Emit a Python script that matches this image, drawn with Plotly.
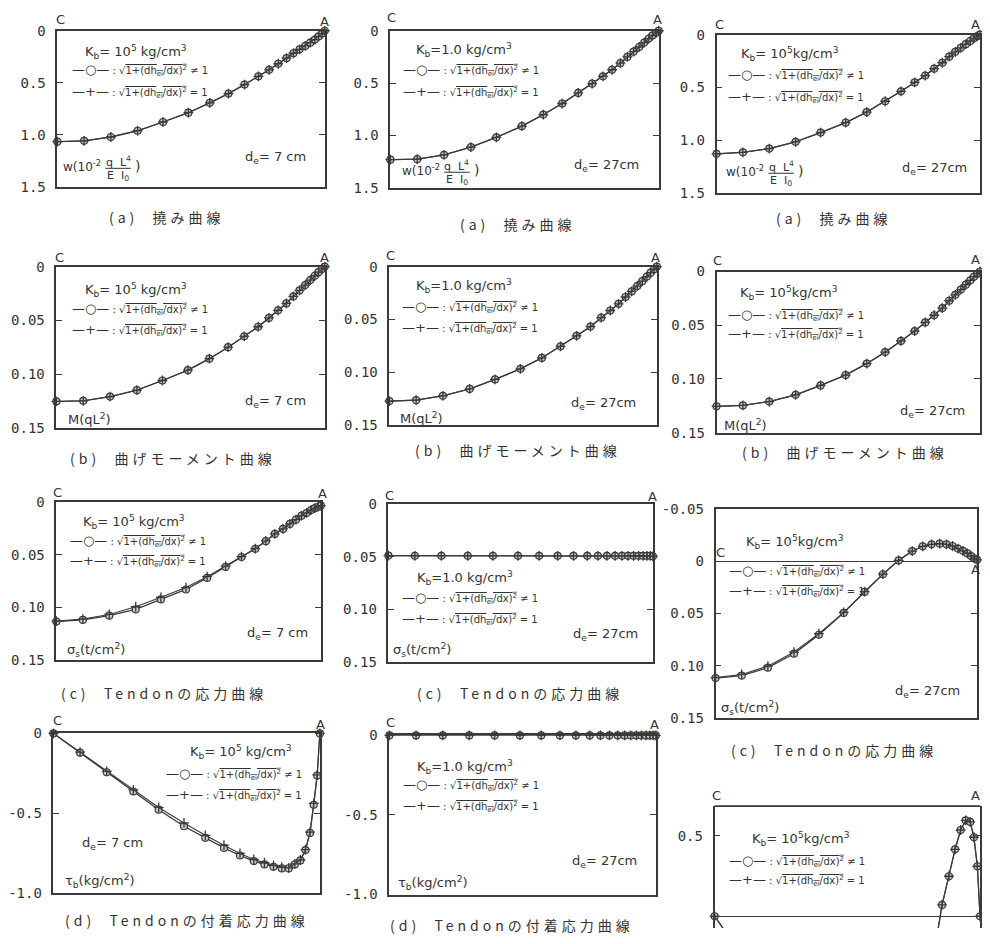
import plotly.graph_objects as go

# the page keeps the browser's 8px body margin, so the figure is made 16px smaller
# than the 990x944 window and every reference pixel position is shifted by OFF
OFF = 8
W, H = 990 - 2 * OFF, 944 - 2 * OFF

# ---------------- data ----------------
# non-dimensional position along the beam, C (=0) to A (=1)
x_mesh = [0, 0.1, 0.2, 0.3, 0.395, 0.49, 0.57, 0.64, 0.70, 0.752, 0.792,
          0.826, 0.857, 0.883, 0.906, 0.927, 0.946, 0.963, 0.977, 0.99, 1.0]

# column 1: Kb=10^5 kg/cm3, de=7cm ; column 2: Kb=1.0 kg/cm3, de=27cm ; column 3: Kb=10^5 kg/cm3, de=27cm
# (a) deflection w
w_col1 = [1.065, 1.057, 1.02, 0.96, 0.876, 0.787, 0.692, 0.603, 0.517, 0.438, 0.375,
          0.317, 0.263, 0.216, 0.178, 0.146, 0.115, 0.085, 0.055, 0.027, 0.0]
w_col2 = [1.23, 1.225, 1.185, 1.11, 1.017, 0.91, 0.80, 0.694, 0.593, 0.505, 0.435,
          0.372, 0.309, 0.25, 0.20, 0.155, 0.113, 0.075, 0.045, 0.02, 0.0]
w_col3 = [1.13, 1.115, 1.08, 1.016, 0.928, 0.834, 0.734, 0.631, 0.537, 0.453, 0.388,
          0.322, 0.266, 0.209, 0.163, 0.125, 0.09, 0.06, 0.033, 0.014, 0.0]
# (b) bending moment M
M_col1 = [0.1255, 0.1249, 0.121, 0.115, 0.106, 0.0964, 0.0857, 0.075, 0.0649, 0.056, 0.0478,
          0.0407, 0.0343, 0.0278, 0.0222, 0.0172, 0.0125, 0.0085, 0.0052, 0.0022, 0.0]
M_col2 = [0.1275, 0.1266, 0.1225, 0.116, 0.107, 0.0969, 0.0866, 0.0756, 0.0656, 0.0569, 0.0484,
          0.0416, 0.0353, 0.0288, 0.0235, 0.0185, 0.0138, 0.0095, 0.0058, 0.0025, 0.0]
M_col3 = [0.1255, 0.1246, 0.121, 0.1148, 0.106, 0.0964, 0.0857, 0.075, 0.0646, 0.0554, 0.0474,
          0.0407, 0.034, 0.0272, 0.0217, 0.0168, 0.0122, 0.0082, 0.0048, 0.002, 0.0]
# (c) tendon stress sigma_s
sig_col1_circ = [0.1136, 0.112, 0.108, 0.102, 0.0925, 0.083, 0.072, 0.0615, 0.052, 0.0442, 0.0369,
                 0.030, 0.0252, 0.0205, 0.0164, 0.0126, 0.0101, 0.0073, 0.0054, 0.0041, 0.003]
sig_col1_plus = [0.1132, 0.1112, 0.1068, 0.0995, 0.0905, 0.0812, 0.0708, 0.0608, 0.0516, 0.044, 0.0367,
                 0.0299, 0.0251, 0.0204, 0.0163, 0.0125, 0.01, 0.0072, 0.0053, 0.004, 0.003]
sig_col2 = [0.0488, 0.049, 0.049, 0.049, 0.049, 0.049, 0.049, 0.049, 0.049, 0.049, 0.049,
            0.049, 0.049, 0.049, 0.049, 0.049, 0.049, 0.049, 0.049, 0.049, 0.0495]
sig_col3_circ = [0.112, 0.1096, 0.102, 0.0886, 0.0704, 0.0494, 0.0293, 0.0123, -0.001, -0.0099, -0.0145,
                 -0.0164, -0.017, -0.0164, -0.0148, -0.0123, -0.0102, -0.0077, -0.0052, -0.0028, -0.0015]
sig_col3_plus = [0.1115, 0.1085, 0.1005, 0.087, 0.0694, 0.049, 0.029, 0.0122, -0.001, -0.0099, -0.0145,
                 -0.0164, -0.017, -0.0164, -0.0148, -0.0123, -0.0102, -0.0077, -0.0052, -0.0028, -0.0015]
# (d) bond stress tau_b
tau_col1_circ = [0.0, -0.121, -0.244, -0.365, -0.479, -0.583, -0.656, -0.719, -0.767, -0.802, -0.823,
                 -0.838, -0.848, -0.848, -0.823, -0.798, -0.733, -0.625, -0.448, -0.265, 0.0]
tau_col1_plus = [0.0, -0.118, -0.238, -0.355, -0.465, -0.5625, -0.64, -0.702, -0.754, -0.792, -0.8125,
                 -0.829, -0.84, -0.844, -0.82, -0.795, -0.73, -0.62, -0.44, -0.26, 0.0]
tau_col2 = [0.0, 0.0, 0.0, 0.0, 0.0, 0.0, 0.0, 0.0, 0.0, 0.0, 0.0,
            0.0, 0.0, 0.0, 0.0, 0.0, 0.0, 0.0, 0.0, 0.0, 0.0]
tau_col3 = [0.0, -0.25, -0.47, -0.66, -0.8, -0.88, -0.9, -0.86, -0.75, -0.58, -0.38,
            -0.24, 0.07, 0.248, 0.415, 0.535, 0.595, 0.585, 0.49, 0.31, 0.0]

# tick labels
ticks_w = ([0, 0.5, 1.0, 1.5], ["0", "0.5", "1.0", "1.5"])
ticks_m = ([0, 0.05, 0.10, 0.15], ["0", "0.05", "0.10", "0.15"])
ticks_s3 = ([-0.05, 0, 0.05, 0.10, 0.15], ["-0.05", "0", "0.05", "0.10", "0.15"])
ticks_t = ([0, -0.5, -1.0], ["0", "-0.5", "-1.0"])
ticks_t3 = ([0.5], ["0.5"])

captions = ["(a)  撓み曲線", "(b)  曲げモーメント曲線", "(c)  Tendonの応力曲線", "(d)  Tendonの付着応力曲線"]
kb_texts = ["K<sub>b</sub>= 10<sup>5</sup> kg/cm<sup>3</sup>", "K<sub>b</sub>=1.0 kg/cm<sup>3</sup>",
            "K<sub>b</sub>= 10<sup>5</sup>kg/cm<sup>3</sup>"]
de_texts = ["d<sub>e</sub>= 7 cm", "d<sub>e</sub>= 27cm", "d<sub>e</sub>= 27cm"]
units = ["w(10<sup>-2</sup>", "M(qL<sup>2</sup>)", "σ<sub>s</sub>(t/cm<sup>2</sup>)", "τ<sub>b</sub>(kg/cm<sup>2</sup>)"]

# ---------------- styling ----------------
LC = "#3a3a3a"
TXT = "#333333"
FONT = "DejaVu Sans"
MONO = "DejaVu Sans Mono"
CJK = "Noto Sans CJK JP"

SQ = "√<span style='text-decoration:overline'>1+(dh<sub>ei</sub>/dx)<sup>2</sup></span>"
LEG1 = "<span style='font-size:13px'>—○—</span> : " + SQ + " ≠ 1"
LEG2 = "<span style='font-size:13px'>—+—</span> : " + SQ + " = 1"

# panel layout in window pixels: frame (left, right, top, bottom)
panels = [
    dict(frame=(39, 312, 23, 182), c=w_col1, p=w_col1, yr=[1.5, 0], tk=ticks_w, col=0, row=0,
         C=(42, 12), A=(312, 14), kb=(65, 45), l1=(52, 63), l2=(52, 85), de=(295, 152, "right"),
         cap=(151, 213), frac=(43, 163)),
    dict(frame=(379, 653, 23, 183), c=w_col2, p=w_col2, yr=[1.5, 0], tk=ticks_w, col=1, row=0,
         C=(380, 10), A=(652, 12), kb=(403, 43), l1=(390, 63), l2=(390, 85), de=(635, 160, "right"),
         cap=(509, 220), frac=(389, 167)),
    dict(frame=(712, 983, 27, 188), c=w_col3, p=w_col3, yr=[1.5, 0], tk=ticks_w, col=2, row=0,
         C=(715, 17), A=(976, 17), kb=(735, 47), l1=(722, 68), l2=(722, 90), de=(970, 163, "right"),
         cap=(832, 214), frac=(720, 168)),
    dict(frame=(38, 312, 263, 427), c=M_col1, p=M_col1, yr=[0.15, 0], tk=ticks_m, col=0, row=1,
         C=(41, 254), A=(312, 254), kb=(65, 287), l1=(52, 306), l2=(52, 327), de=(295, 400, "right"),
         cap=(157, 458), unit=(48, 418)),
    dict(frame=(378, 651, 263, 424), c=M_col2, p=M_col2, yr=[0.15, 0], tk=ticks_m, col=1, row=1,
         C=(379, 252), A=(650, 254), kb=(403, 283), l1=(389, 304), l2=(389, 325), de=(632, 402, "right"),
         cap=(509, 450), unit=(387, 417)),
    dict(frame=(712, 982, 268, 432), c=M_col3, p=M_col3, yr=[0.15, 0], tk=ticks_m, col=2, row=1,
         C=(713, 257), A=(976, 256), kb=(734, 290), l1=(722, 312), l2=(722, 332), de=(968, 410, "right"),
         cap=(843, 452), unit=(718, 424)),
    dict(frame=(38, 308, 503, 663), c=sig_col1_circ, p=sig_col1_plus, yr=[0.15, 0], tk=ticks_m, col=0, row=2,
         C=(39, 493), A=(310, 494), kb=(63, 523), l1=(50, 542), l2=(50, 563), de=(297, 636, "right"),
         cap=(148, 697), unit=(47, 653)),
    dict(frame=(377, 647, 505, 665), c=sig_col2, p=sig_col2, yr=[0.15, 0], tk=ticks_m, col=1, row=2,
         C=(378, 496), A=(647, 497), kb=(404, 580), l1=(389, 600), l2=(389, 622), de=(634, 637, "right"),
         cap=(511, 697), unit=(380, 653)),
    dict(frame=(711, 978, 510, 722), c=sig_col3_circ, p=sig_col3_plus, yr=[0.15, -0.05], tk=ticks_s3, col=2,
         row=2, zero=True,
         C=(716, 554), A=(976, 571), kb=(740, 543), l1=(723, 573), l2=(723, 593), de=(963, 695, "right"),
         cap=(832, 755), unit=(715, 712)),
    dict(frame=(35, 307, 738, 900), c=tau_col1_circ, p=tau_col1_plus, yr=[-1.0, 0], tk=ticks_t, col=0, row=3,
         C=(39, 725), A=(308, 729), kb=(172, 757), l1=(148, 779), l2=(148, 801), de=(62, 850, "left"),
         cap=(171, 928), unit=(45, 888)),
    dict(frame=(378, 650, 740, 902), c=tau_col2, p=tau_col2, yr=[-1.0, 0], tk=ticks_t, col=1, row=3,
         C=(379, 727), A=(649, 729), kb=(404, 772), l1=(390, 790), l2=(390, 812), de=(633, 868, "right"),
         cap=(503, 933), unit=(385, 890)),
    dict(frame=(710, 981, 812, 936), c=tau_col3, p=tau_col3, yr=[-0.073, 0.683], tk=ticks_t3, col=2, row=3,
         zero=True, open_bottom=True,
         C=(712, 801), A=(976, 801), kb=(746, 845), l1=(723, 868), l2=(723, 887)),
]

fig = go.Figure()
annotations = []
shapes = []


def fx(px):
    return (px - OFF) / W


def fy(py):
    return 1 - (py - OFF) / H


def ann(px, py, text, size=13, xanchor="left", yanchor="middle", family=FONT):
    annotations.append(dict(x=fx(px), y=fy(py), xref="paper", yref="paper", text=text,
                            showarrow=False, xanchor=xanchor, yanchor=yanchor,
                            font=dict(size=size, family=family, color=TXT)))


layout_axes = {}
for i, p in enumerate(panels, start=1):
    l, r, t, b = p["frame"]
    sfx = "" if i == 1 else str(i)
    xa, ya = "x" + sfx, "y" + sfx
    open_bottom = p.get("open_bottom", False)
    layout_axes["xaxis" + sfx] = dict(
        domain=[fx(l), min(0.999, fx(r))], range=[0, 1], anchor=ya, showgrid=False, zeroline=False,
        showticklabels=False, ticks="", showline=not open_bottom, mirror=True,
        linecolor=LC, linewidth=1.6, fixedrange=True)
    layout_axes["yaxis" + sfx] = dict(
        domain=[max(0.0, fy(b)), fy(t)], range=p["yr"], anchor=xa, showgrid=False,
        zeroline=p.get("zero", False), zerolinecolor=LC, zerolinewidth=1.2,
        tickmode="array", tickvals=p["tk"][0], ticktext=p["tk"][1],
        ticks="inside", ticklen=6, tickwidth=1.3, tickcolor=LC,
        showline=True, mirror="ticks", linecolor=LC, linewidth=1.6,
        tickfont=dict(family=MONO, size=14, color=TXT), ticklabelstandoff=7, fixedrange=True)
    if open_bottom:
        shapes.append(dict(type="line", xref="x" + sfx + " domain", yref="y" + sfx + " domain",
                           x0=0, x1=1, y0=1, y1=1, line=dict(color=LC, width=1.6)))

    # two series: with and without the sqrt(1+(dh/dx)^2) term
    fig.add_trace(go.Scatter(
        x=x_mesh, y=p["c"], xaxis=xa, yaxis=ya, mode="lines+markers", cliponaxis=False,
        line=dict(color=LC, width=1.3),
        marker=dict(symbol="circle", size=7, color="#c8c8c8", line=dict(color=LC, width=1.2))))
    fig.add_trace(go.Scatter(
        x=x_mesh, y=p["p"], xaxis=xa, yaxis=ya, mode="lines+markers", cliponaxis=False,
        line=dict(color=LC, width=1.1),
        marker=dict(symbol="cross-thin", size=7, color=LC, line=dict(color=LC, width=1.3))))

    # corner letters
    ann(*p["C"], "C", size=13, xanchor="center")
    ann(*p["A"], "A", size=13, xanchor="center")
    # Kb and the legend lines
    ann(*p["kb"], kb_texts[p["col"]], size=13)
    ann(*p["l1"], LEG1, size=10)
    ann(*p["l2"], LEG2, size=10)
    if "de" in p:
        dx, dy, anc = p["de"]
        ann(dx, dy, de_texts[p["col"]], size=13, xanchor=anc)
    if "cap" in p:
        ann(*p["cap"], "<span style='letter-spacing:4px'>" + captions[p["row"]] + "</span>",
            size=14, xanchor="center", family=CJK)
    if "unit" in p:
        ann(*p["unit"], units[p["row"]], size=13)
    if "frac" in p:
        x0, yc = p["frac"]
        xc = x0 + 58
        ann(x0, yc - 2, units[0], size=12)
        ann(xc, yc - 7, "q  L<sup>4</sup>", size=11, xanchor="center")
        ann(xc, yc + 8, "E  I<sub>0</sub>", size=11, xanchor="center")
        ann(xc + 15, yc - 2, ")", size=14)
        shapes.append(dict(type="line", xref="paper", yref="paper",
                           x0=fx(xc - 13), x1=fx(xc + 13), y0=fy(yc), y1=fy(yc),
                           line=dict(color=TXT, width=1)))

fig.update_layout(
    width=W, height=H, margin=dict(l=0, r=0, t=0, b=0),
    paper_bgcolor="white", plot_bgcolor="white", showlegend=False,
    annotations=annotations, shapes=shapes, **layout_axes)

fig.write_html("out.html", config={"displayModeBar": False})
